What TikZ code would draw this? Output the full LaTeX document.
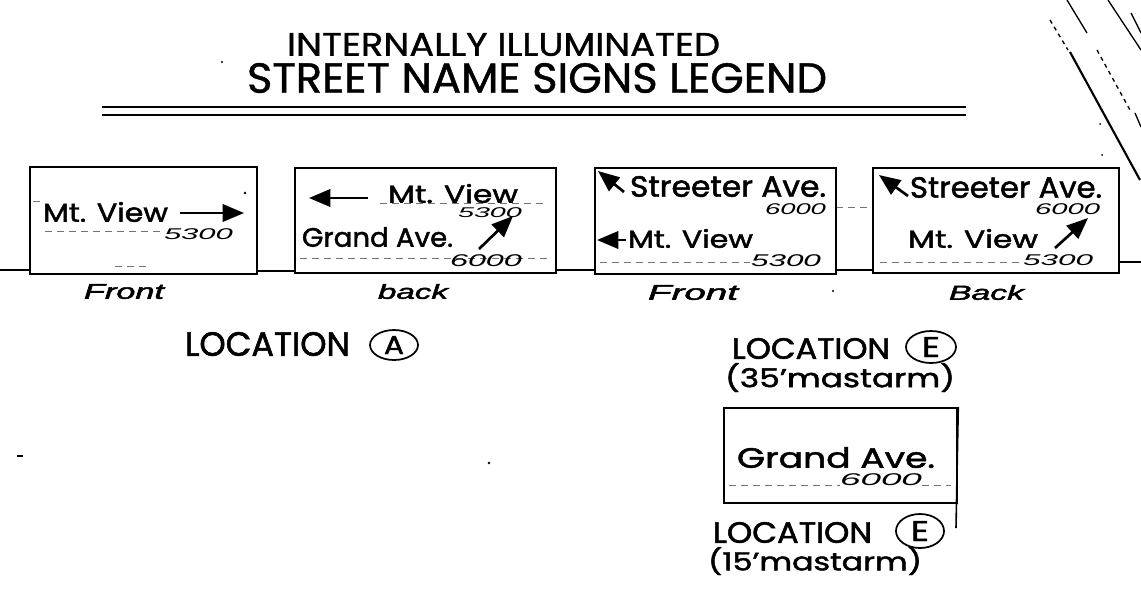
\documentclass[tikz,border=0pt]{standalone}
\usepackage{fontspec}
\usepackage{graphicx}
\setmainfont{Poppins}
\newfontfamily\heavy{Poppins}[FakeBold=1.6]
\newfontfamily\titlef{Poppins}[FakeBold=1.0]
\newfontfamily\numit{Liberation Sans}
\newfontfamily\labit{Liberation Sans}[ItalicFeatures={FakeBold=1.8}]
\usetikzlibrary{arrows.meta,shapes.geometric}
\newlength\pxu
\setlength\pxu{0.75pt}
\newcommand\fb[3]{\resizebox*{#1\pxu}{#2\pxu}{\heavy #3}}
\newcommand\ft[3]{\resizebox*{#1\pxu}{#2\pxu}{\titlef #3}}
\newcommand\fbi[3]{\resizebox*{#1\pxu}{#2\pxu}{\numit\itshape #3}}
\newcommand\fbl[3]{\resizebox*{#1\pxu}{#2\pxu}{\labit\itshape #3}}
\begin{document}
\begin{tikzpicture}[x=0.75pt,y=-0.75pt,
  txt/.style={inner sep=0pt,outer sep=0pt,anchor=north west},
  signbox/.style={draw,line width=1.7pt,inner sep=0pt,anchor=north west},
  guide/.style={black!55,line width=0.6pt,dash pattern=on 5pt off 4pt},
  ground/.style={black,line width=1pt},
  sarrow/.style={line width=2pt,-{Triangle[length=16pt,width=13pt]}},
  circlet/.style={draw,ellipse,line width=1.3pt,inner sep=0pt},
  diag/.style={line width=1pt}]
\useasboundingbox (0,0) rectangle (1141,601);
\fill[white] (0,0) rectangle (1141,601);
% title
\node[txt] (t1) at (287,33) {\ft{433}{23}{INTERNALLY ILLUMINATED}};
\node[txt] (t2) at (247,63) {\ft{580}{30}{STREET NAME SIGNS LEGEND}};
\draw[line width=2pt] (102,107) -- (966,107);
\draw[line width=1.2pt] (102,115) -- (966,115);
% ground line segments
\draw[ground] (0,270) -- (29,270);
\draw[ground] (256,271) -- (294,271);
\draw[ground] (555,270) -- (594,270);
\draw[ground] (835,270) -- (872,270);
\draw[ground] (1118,262) -- (1141,262);
\draw[guide] (836,207) -- (872,207);
% boxes
\node[signbox,minimum width=227\pxu,minimum height=107\pxu] (b1) at (29,166) {};
\node[signbox,minimum width=261\pxu,minimum height=105\pxu] (b2) at (294,167) {};
\node[signbox,minimum width=241\pxu,minimum height=106\pxu] (b3) at (594,167) {};
\node[signbox,minimum width=246\pxu,minimum height=105\pxu] (b4) at (872,167) {};
\node[signbox,minimum width=233\pxu,minimum height=95\pxu] (b5) at (723,407) {};
\draw[line width=1.2pt] (b5.north east) -- (956,528);
% guides
\draw[guide] (33,201) -- (45,201);
\draw[guide] (45,231) -- (160,231);
\draw[guide] (115,266) -- (150,266);
\draw[guide] (380,203) -- (547,203);
\draw[guide] (300,258) -- (550,258);
\draw[guide] (600,262) -- (750,262);
\draw[guide] (880,262) -- (1020,262);
\draw[guide] (729,485) -- (840,485);
\draw[guide] (922,485) -- (951,485);
% sign 1
\node[txt] (m1) at (43,202) {\fb{125}{20}{Mt. View}};
\node[txt] (n1) at (164,229) {\fbi{69}{11}{5300}};
\draw[sarrow] (180,213) -- (244,213);
\node[txt] (f1) at (84,284) {\fbl{80}{15}{Front}};
% sign 2
\draw[sarrow] (368,198) -- (309,198);
\node[txt] (m2) at (388,184) {\fb{130}{19}{Mt. View}};
\node[txt] (n2) at (458,208) {\fbi{64}{10}{5300}};
\node[txt] (g2) at (302,227) {\fb{151}{20}{Grand Ave.}};
\draw[sarrow] (479,249) -- (513,216);
\node[txt] (n2b) at (450,255) {\fbi{72}{12}{6000}};
\node[txt] (bk) at (378,284) {\fbl{70}{15}{back}};
% sign 3
\draw[sarrow] (624,192) -- (598,171);
\node[txt] (s3) at (630,176) {\fb{196}{21}{Streeter Ave.}};
\node[txt] (n3) at (765,204) {\fbi{61}{11}{6000}};
\draw[sarrow] (626,240) -- (597,240);
\node[txt] (m3) at (628,229) {\fb{125}{19}{Mt. View}};
\node[txt] (n3b) at (751,255) {\fbi{70}{12}{5300}};
\node[txt] (f3) at (648,285) {\fbl{90}{15}{Front}};
% sign 4
\draw[sarrow] (908,196) -- (879,175);
\node[txt] (s4) at (910,177) {\fb{192}{21}{Streeter Ave.}};
\node[txt] (n4) at (1035,204) {\fbi{65}{11}{6000}};
\node[txt] (m4) at (908,229) {\fb{130}{19}{Mt. View}};
\draw[sarrow] (1055,248) -- (1088,218);
\node[txt] (n4b) at (1023,255) {\fbi{70}{11}{5300}};
\node[txt] (bk4) at (949,285) {\fbl{75}{15}{Back}};
% sign 5
\node[txt] (g5) at (737,447) {\fb{198}{21}{Grand Ave.}};
\node[txt] (n5) at (840,474) {\fbi{82}{12}{6000}};
% locations
\node[txt] (la) at (185,332) {\fb{165}{24}{LOCATION}};
\node[circlet,minimum width=48\pxu,minimum height=30\pxu] (ca) at (394,345) {};
\node[inner sep=0pt] (ca-l) at (ca.center) {\fb{20}{18}{A}};
\node[txt] (le1) at (732,338) {\fb{158}{21}{LOCATION}};
\node[circlet,minimum width=50\pxu,minimum height=32\pxu] (ce1) at (931,347) {};
\node[inner sep=0pt] (ce1-l) at (ce1.center) {\fb{18}{20}{E}};
\node[txt] (ms1) at (725,363) {\fb{230}{29}{(35’mastarm)}};
\node[txt] (le2) at (713,522) {\fb{159}{21}{LOCATION}};
\node[circlet,minimum width=48\pxu,minimum height=34\pxu] (ce2) at (920,531) {};
\node[inner sep=0pt] (ce2-l) at (ce2.center) {\fb{18}{20}{E}};
\node[txt] (ms2) at (708,547) {\fb{214}{28}{(15’mastarm)}};
% diagonal lines at top right
\draw[diag] (1067,0) -- (1087,33);
\draw[diag,dashed] (1050,20) -- (1068,50);
\draw[line width=1.6pt] (1070,52) -- (1140,180);
\draw[diag,dashed] (1097,50) -- (1130,110);
\draw[diag] (1135,113) -- (1141,127);
\draw[diag] (1108,0) -- (1141,50);
\draw[diag] (1131,13) -- (1141,33);
% specks
\fill (222,62) circle (1.2);
\fill (245,193) circle (1.4);
\fill (1100,124) circle (1);
\fill (1102,155) circle (1);
\fill (489,463) circle (1.4);
\fill (833,291) circle (1.2);
\draw[line width=0.8pt] (17,456) -- (23,456);
\end{tikzpicture}
\end{document}
